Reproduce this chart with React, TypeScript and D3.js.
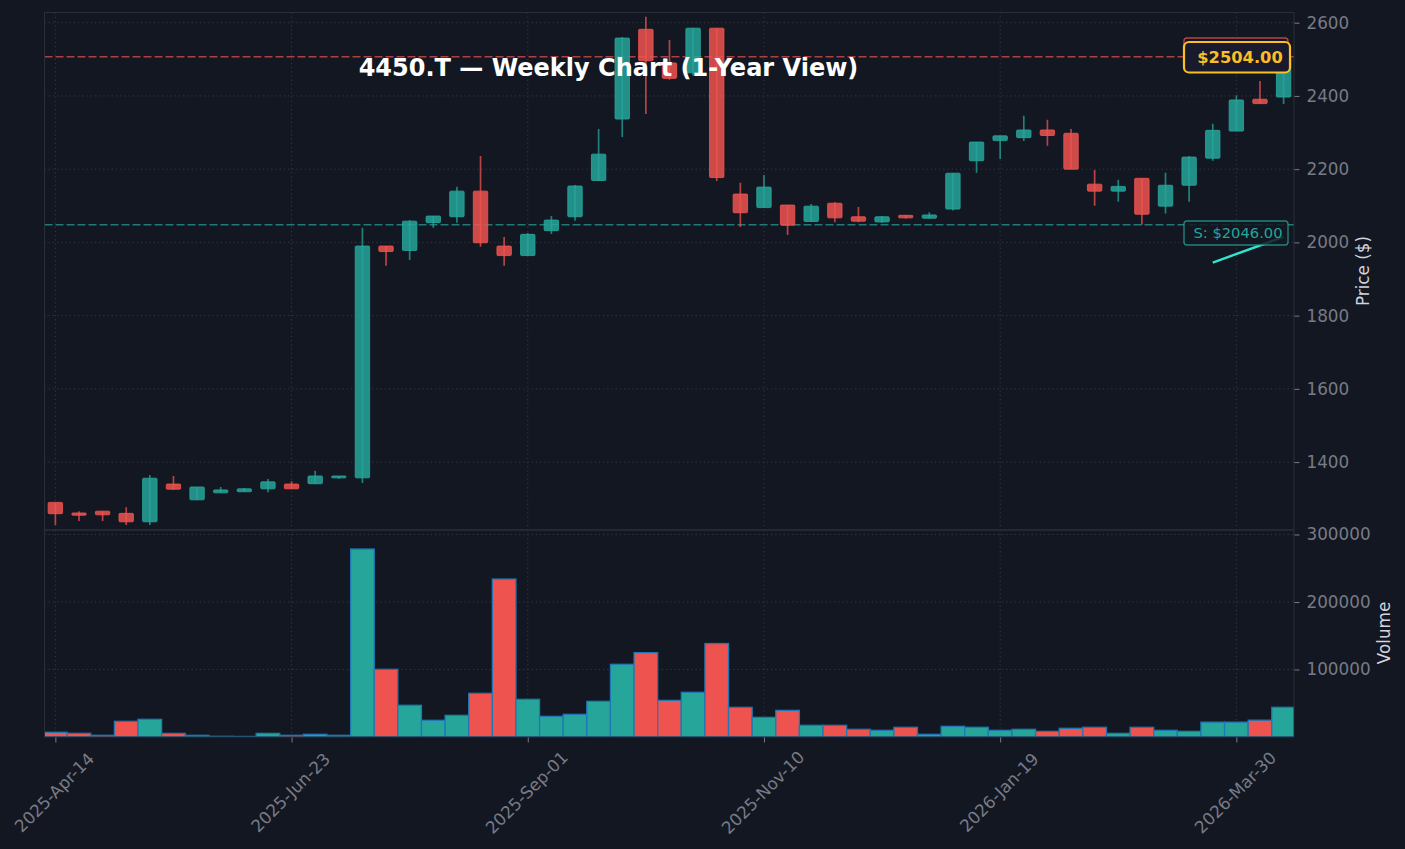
import { useEffect, useRef } from "react";
import * as d3 from "d3";

const opens = [1290, 1261, 1266, 1260, 1237, 1340, 1297, 1316, 1319, 1327, 1340, 1341, 1357, 1357, 1990, 1978, 2054, 2070, 2140, 1990, 1964, 2032, 2070, 2169, 2337, 2582, 2490, 2463, 2585, 2132, 2095, 2102, 2057, 2107, 2070, 2056, 2074, 2066, 2091, 2223, 2278, 2286, 2307, 2298, 2159, 2140, 2175, 2099, 2156, 2230, 2304, 2391, 2397];
const closes = [1259, 1255, 1256, 1237, 1356, 1326, 1332, 1324, 1327, 1346, 1327, 1362, 1362, 1990, 1975, 2058, 2072, 2140, 1999, 1964, 2022, 2061, 2154, 2241, 2558, 2496, 2448, 2585, 2177, 2081, 2151, 2047, 2099, 2067, 2058, 2070, 2067, 2075, 2189, 2274, 2291, 2307, 2292, 2200, 2140, 2153, 2077, 2156, 2233, 2306, 2389, 2379, 2504];
const highs = [1290, 1266, 1266, 1277, 1365, 1362, 1332, 1332, 1329, 1354, 1348, 1376, 1362, 2040, 1990, 2061, 2072, 2152, 2236, 2015, 2026, 2072, 2157, 2310, 2561, 2616, 2553, 2586, 2585, 2163, 2184, 2102, 2105, 2110, 2097, 2072, 2075, 2082, 2189, 2274, 2291, 2346, 2335, 2310, 2198, 2171, 2175, 2190, 2236, 2324, 2402, 2441, 2504];
const lows = [1228, 1239, 1239, 1228, 1228, 1325, 1296, 1316, 1319, 1318, 1327, 1341, 1354, 1343, 1936, 1952, 2040, 2054, 1988, 1936, 1963, 2023, 2059, 2168, 2288, 2351, 2444, 2455, 2168, 2042, 2095, 2020, 2057, 2055, 2055, 2053, 2065, 2065, 2087, 2190, 2228, 2277, 2264, 2200, 2100, 2111, 2048, 2079, 2111, 2223, 2304, 2379, 2378];
const volumes = [7000, 5500, 2500, 23300, 26200, 5400, 2500, 1000, 800, 5400, 2500, 4000, 2500, 278500, 100300, 47000, 24700, 32100, 64700, 234000, 55800, 30600, 33600, 52900, 107700, 125000, 54300, 66200, 138500, 44000, 29100, 39500, 17300, 17300, 11400, 9900, 14400, 4000, 15800, 14400, 9900, 11400, 8400, 12900, 14400, 5400, 14400, 9900, 8400, 22000, 22000, 24900, 44000];

const xTickIdx = [0, 10, 20, 30, 40, 50];
const xTickLabels = ["2025-Apr-14", "2025-Jun-23", "2025-Sep-01", "2025-Nov-10", "2026-Jan-19", "2026-Mar-30"];
const priceTicks = [1400, 1600, 1800, 2000, 2200, 2400, 2600];
const volumeTicks = [100000, 200000, 300000];

const resistanceLine = 2507;
const supportLine = 2048;
const trendIdx = [49, 52];
const trendPrice = [1945, 2015];

const BG = "#131722";
const UP = "#26a69a";
const DOWN = "#ef5350";
const SPINE = "#2a2e39";
const GRID = "#363a46";
const TICK = "#787b86";
const LABEL = "#d1d4dc";
const FONT = "'DejaVu Sans', sans-serif";

export default function App() {
    const svgRef = useRef<SVGSVGElement>(null);

    useEffect(() => {
        if (!svgRef.current) return;
        document.body.style.background = BG;

        const svg = d3.select(svgRef.current);
        svg.selectAll("*").remove();

        const left = 44.5, right = 1294;
        const priceTop = 12.5, split = 530, volBottom = 737;

        const x = d3.scaleLinear().domain([-0.46, 52.44]).range([left, right]);
        const yPrice = d3.scaleLinear().domain([2000, 2600]).range([242.4, 22.7]);
        const yVol = d3.scaleLinear().domain([0, 300000]).range([volBottom, 534.5]);
        const weekW = x(1) - x(0);

        svg.append("rect").attr("width", 1405).attr("height", 849).attr("fill", BG);

        const defs = svg.append("defs");
        defs.append("clipPath").attr("id", "clip-price").append("rect")
            .attr("x", left).attr("y", priceTop).attr("width", right - left).attr("height", split - priceTop);
        defs.append("clipPath").attr("id", "clip-vol").append("rect")
            .attr("x", left).attr("y", split).attr("width", right - left).attr("height", volBottom - split);

        // Grid
        const grid = svg.append("g").attr("stroke", GRID).attr("stroke-width", 1).attr("stroke-dasharray", "1.2,3");
        xTickIdx.forEach(i => {
            grid.append("line").attr("x1", x(i)).attr("x2", x(i)).attr("y1", priceTop).attr("y2", split);
            grid.append("line").attr("x1", x(i)).attr("x2", x(i)).attr("y1", split).attr("y2", volBottom);
        });
        priceTicks.forEach(p => {
            grid.append("line").attr("x1", left).attr("x2", right).attr("y1", yPrice(p)).attr("y2", yPrice(p));
        });
        volumeTicks.forEach(v => {
            grid.append("line").attr("x1", left).attr("x2", right).attr("y1", yVol(v)).attr("y2", yVol(v));
        });

        // Support / resistance
        svg.append("line").attr("x1", left).attr("x2", right).attr("y1", yPrice(resistanceLine)).attr("y2", yPrice(resistanceLine))
            .attr("stroke", DOWN).attr("stroke-opacity", 0.7).attr("stroke-width", 1.6).attr("stroke-dasharray", "8,3");
        svg.append("line").attr("x1", left).attr("x2", right).attr("y1", yPrice(supportLine)).attr("y2", yPrice(supportLine))
            .attr("stroke", UP).attr("stroke-opacity", 0.7).attr("stroke-width", 1.6).attr("stroke-dasharray", "8,3");

        // Candles
        const candles = svg.append("g").attr("clip-path", "url(#clip-price)");
        opens.forEach((o, i) => {
            const c = closes[i];
            const color = c >= o ? UP : DOWN;
            candles.append("line").attr("x1", x(i)).attr("x2", x(i)).attr("y1", yPrice(highs[i])).attr("y2", yPrice(lows[i]))
                .attr("stroke", color).attr("stroke-opacity", 0.75).attr("stroke-width", 1.7);
            candles.append("rect")
                .attr("x", x(i) - 7.2).attr("width", 14.4)
                .attr("y", yPrice(Math.max(o, c))).attr("height", Math.abs(yPrice(o) - yPrice(c)))
                .attr("rx", 1)
                .attr("fill", color).attr("fill-opacity", 0.85)
                .attr("stroke", color).attr("stroke-opacity", 0.85).attr("stroke-width", 1);
        });

        // Volume
        const vol = svg.append("g").attr("clip-path", "url(#clip-vol)");
        volumes.forEach((v, i) => {
            vol.append("rect")
                .attr("x", x(i) - weekW / 2).attr("width", weekW)
                .attr("y", yVol(v)).attr("height", volBottom - yVol(v))
                .attr("fill", closes[i] >= opens[i] ? UP : DOWN)
                .attr("stroke", "#1f77b4").attr("stroke-width", 1.3);
        });

        // Axes
        const styleAxis = (g: d3.Selection<SVGGElement, unknown, null, undefined>) => {
            g.select(".domain").remove();
            g.selectAll(".tick line").attr("stroke", TICK).attr("stroke-width", 1);
            g.selectAll(".tick text").attr("fill", TICK).attr("font-family", FONT).attr("font-size", 16.8);
        };
        const priceAxis = svg.append("g").attr("transform", `translate(${right},0)`)
            .call(d3.axisRight(yPrice).tickValues(priceTicks).tickSize(5.5).tickPadding(7).tickFormat(d => String(d)));
        styleAxis(priceAxis as any);
        const volAxis = svg.append("g").attr("transform", `translate(${right},0)`)
            .call(d3.axisRight(yVol).tickValues(volumeTicks).tickSize(5.5).tickPadding(7).tickFormat(d => String(d)));
        styleAxis(volAxis as any);
        const timeAxis = svg.append("g").attr("transform", `translate(0,${volBottom})`)
            .call(d3.axisBottom(x).tickValues(xTickIdx).tickSize(5.5).tickFormat((_, i) => xTickLabels[i]));
        styleAxis(timeAxis as any);
        timeAxis.selectAll<SVGTextElement, number>(".tick text")
            .attr("text-anchor", "middle").attr("x", 0).attr("y", 0).attr("dy", "0.35em")
            .attr("transform", "translate(-1.5,55.5) rotate(-45)");

        // Spines
        const spines = svg.append("g").attr("fill", "none").attr("stroke", SPINE).attr("stroke-width", 1);
        spines.append("rect").attr("x", left).attr("y", priceTop).attr("width", right - left).attr("height", split - priceTop);
        spines.append("rect").attr("x", left).attr("y", split).attr("width", right - left).attr("height", volBottom - split);

        // Axis titles
        svg.append("text").attr("transform", "translate(1363,271) rotate(-90)")
            .attr("text-anchor", "middle").attr("dy", "0.35em").attr("fill", LABEL)
            .attr("font-family", FONT).attr("font-size", 16.8).text("Price ($)");
        svg.append("text").attr("transform", "translate(1384,633) rotate(-90)")
            .attr("text-anchor", "middle").attr("dy", "0.35em").attr("fill", LABEL)
            .attr("font-family", FONT).attr("font-size", 16.8).text("Volume");

        // Trend stroke beneath the support tag
        svg.append("line")
            .attr("x1", x(trendIdx[0])).attr("x2", x(trendIdx[1]))
            .attr("y1", yPrice(trendPrice[0])).attr("y2", yPrice(trendPrice[1]))
            .attr("stroke", "#2ee6d0").attr("stroke-width", 2.4);

        // Support tag
        svg.append("rect").attr("x", 1184).attr("y", 221).attr("width", 104).attr("height", 24).attr("rx", 3)
            .attr("fill", BG).attr("fill-opacity", 0.85).attr("stroke", UP).attr("stroke-opacity", 0.75).attr("stroke-width", 1.4);
        svg.append("text").attr("x", 1238).attr("y", 232.5).attr("dy", "0.35em").attr("text-anchor", "middle")
            .attr("fill", UP).attr("font-family", FONT).attr("font-size", 14.7).text("S: $2046.00");

        // Resistance tag sits behind the price tag, only its top shows
        svg.append("rect").attr("x", 1184).attr("y", 38).attr("width", 104).attr("height", 24).attr("rx", 3)
            .attr("fill", BG).attr("fill-opacity", 0.85).attr("stroke", DOWN).attr("stroke-opacity", 0.75).attr("stroke-width", 1.4);

        // Last price tag
        svg.append("rect").attr("x", 1184).attr("y", 42).attr("width", 106).attr("height", 30.5).attr("rx", 5)
            .attr("fill", "#1a1a2e").attr("stroke", "#fbbf24").attr("stroke-width", 2.2);
        svg.append("text").attr("x", 1240).attr("y", 57.5).attr("dy", "0.35em").attr("text-anchor", "middle")
            .attr("fill", "#fbbf24").attr("font-family", FONT).attr("font-weight", "bold").attr("font-size", 16.3).text("$2504.00");

        // Title
        svg.append("text").attr("x", 608.5).attr("y", 76).attr("text-anchor", "middle")
            .attr("fill", "#ffffff").attr("font-family", FONT).attr("font-weight", "bold").attr("font-size", 24)
            .text("4450.T — Weekly Chart (1-Year View)");
    }, []);

    return <svg ref={svgRef} width={1405} height={849} style={{ position: "fixed", left: 0, top: 0 }} />;
}
